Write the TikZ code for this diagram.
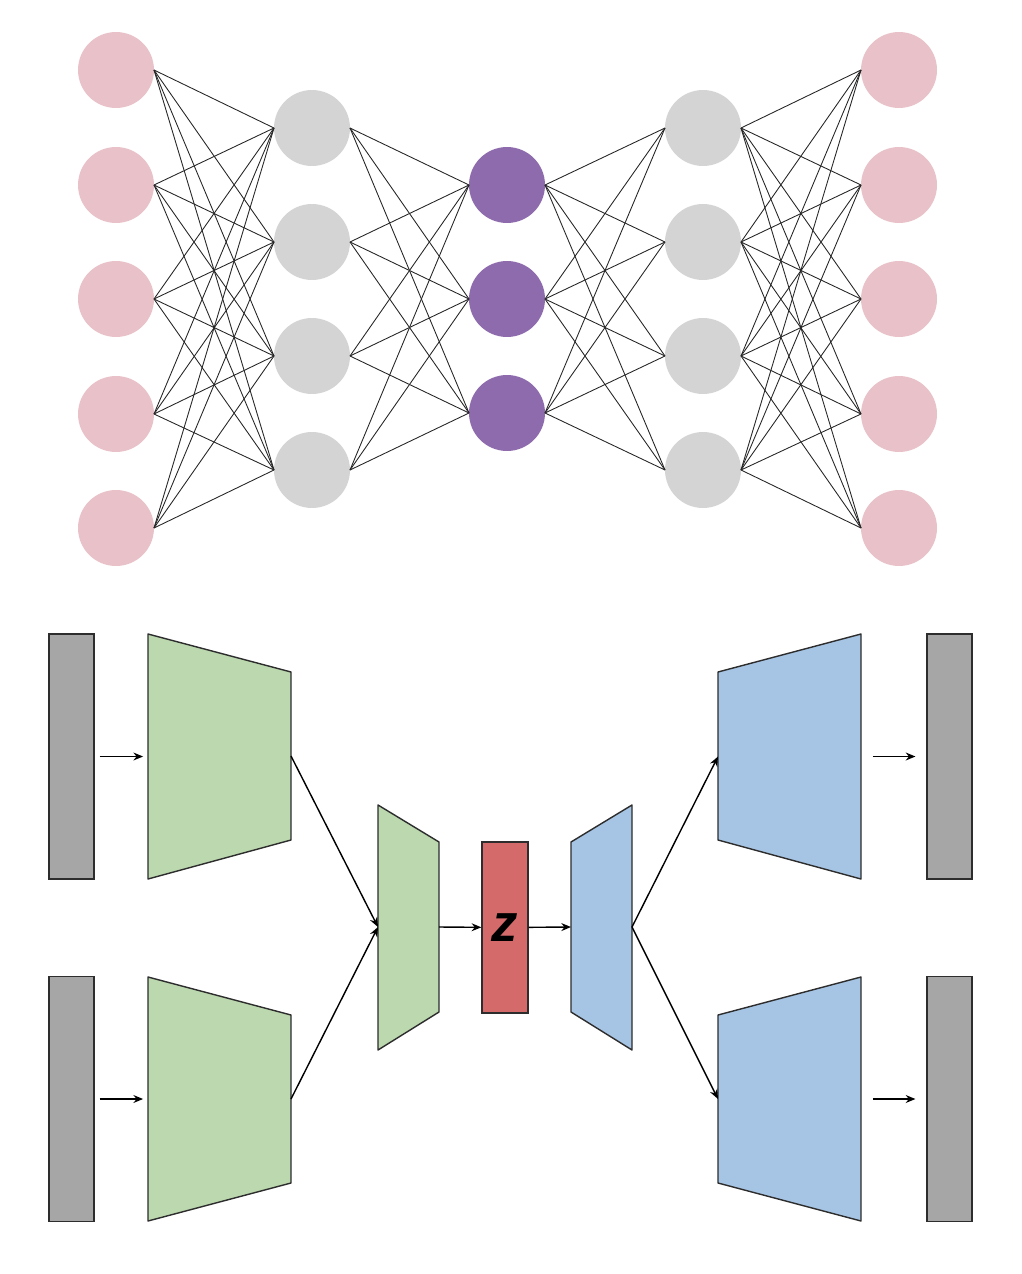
\documentclass[tikz,border=0pt]{standalone}
\usepackage{fontspec}
\setsansfont{Liberation Sans}
\usetikzlibrary{arrows.meta}

\definecolor{ionode}{RGB}{232,193,201}
\definecolor{hidnode}{RGB}{212,212,212}
\definecolor{codenode}{RGB}{142,107,173}
\definecolor{barfill}{RGB}{166,166,166}
\definecolor{encfill}{RGB}{188,216,174}
\definecolor{decfill}{RGB}{166,196,228}
\definecolor{zfill}{RGB}{212,106,106}
\definecolor{bordercol}{RGB}{45,45,45}

\tikzset{
	unit/.style={circle, minimum size=1.52cm, inner sep=0pt, outer sep=0pt},
	link/.style={black!85, line width=0.5pt},
	databar/.style={draw=bordercol, fill=barfill, line width=0.8pt, minimum width=0.9cm, minimum height=4.9cm, inner sep=0pt},
	encbox/.style={draw=bordercol, fill=encfill, line width=0.8pt, line join=round},
	decbox/.style={draw=bordercol, fill=decfill, line width=0.8pt, line join=round},
	flow/.style={->, line width=0.8pt, black},
	gap/.style={shorten <=2.8pt, shorten >=2.8pt},
	widegap/.style={shorten <=6.8pt, shorten >=6.2pt}
}

\begin{document}
\begin{tikzpicture}[x=0.02cm, y=-0.02cm, >={Stealth[length=5.5pt,width=4.5pt]}]
		\useasboundingbox (0,0) rectangle (1021,1274);

		% top: fully connected network
		\foreach \i/\y in {1/70,2/185,3/299,4/414,5/528}{
			\node[unit, fill=ionode] (inp\i) at (116,\y) {};
			\node[unit, fill=ionode] (out\i) at (899,\y) {};
		}
		\foreach \i/\y in {1/128,2/242,3/356,4/470}{
			\node[unit, fill=hidnode] (encl\i) at (312,\y) {};
			\node[unit, fill=hidnode] (decl\i) at (703,\y) {};
		}
		\foreach \i/\y in {1/185,2/299,3/413}{
			\node[unit, fill=codenode] (code\i) at (507,\y) {};
		}

		\foreach \i in {1,...,5}{
			\foreach \j in {1,...,4}{
				\draw[link] (inp\i.east) -- (encl\j.west);
				\draw[link] (decl\j.east) -- (out\i.west);
			}
		}
		\foreach \i in {1,...,4}{
			\foreach \j in {1,...,3}{
				\draw[link] (encl\i.east) -- (code\j.west);
				\draw[link] (code\j.east) -- (decl\i.west);
			}
		}

		% bottom: block view
		\node[databar] (xa) at (71.5,756.5) {};
		\node[databar] (xb) at (71.5,1099) {};
		\node[databar] (ya) at (949.5,756.5) {};
		\node[databar] (yb) at (949.5,1099) {};

		\draw[encbox] (148,634) -- (291,672) -- (291,840) -- (148,879) -- cycle;
		\draw[encbox] (148,977) -- (291,1015) -- (291,1183) -- (148,1221) -- cycle;
		\draw[encbox] (378,805) -- (439,842) -- (439,1012) -- (378,1050) -- cycle;
		\draw[decbox] (571,842) -- (632,805) -- (632,1050) -- (571,1012) -- cycle;
		\draw[decbox] (718,672) -- (861,634) -- (861,879) -- (718,840) -- cycle;
		\draw[decbox] (718,1015) -- (861,977) -- (861,1221) -- (718,1183) -- cycle;

		\coordinate (enca-in) at (148,756.5);
		\coordinate (enca-out) at (291,756);
		\coordinate (encb-in) at (148,1099);
		\coordinate (encb-out) at (291,1099);
		\coordinate (mid-in) at (378,927);
		\coordinate (mid-out) at (439,927);
		\coordinate (dmid-in) at (571,927);
		\coordinate (dmid-out) at (632,927);
		\coordinate (deca-in) at (718,756.5);
		\coordinate (deca-out) at (861,756.5);
		\coordinate (decb-in) at (718,1099);
		\coordinate (decb-out) at (861,1099);

		\node[draw=bordercol, fill=zfill, line width=0.8pt, minimum width=0.92cm, minimum height=3.42cm, inner sep=0pt,
			font=\sffamily\bfseries\itshape\fontsize{30}{30}\selectfont] (z) at (505,927.5) {z};

		\draw[flow, gap] (xa) -- (enca-in);
		\draw[flow, gap] (xb) -- (encb-in);
		\draw[flow] (enca-out) -- (mid-in);
		\draw[flow] (encb-out) -- (mid-in);
		\draw[flow] (mid-out) -- (z);
		\draw[flow] (z) -- (dmid-in);
		\draw[flow] (dmid-out) -- (deca-in);
		\draw[flow] (dmid-out) -- (decb-in);
		\draw[flow, widegap] (deca-out) -- (ya);
		\draw[flow, widegap] (decb-out) -- (yb);
	\end{tikzpicture}
\end{document}
